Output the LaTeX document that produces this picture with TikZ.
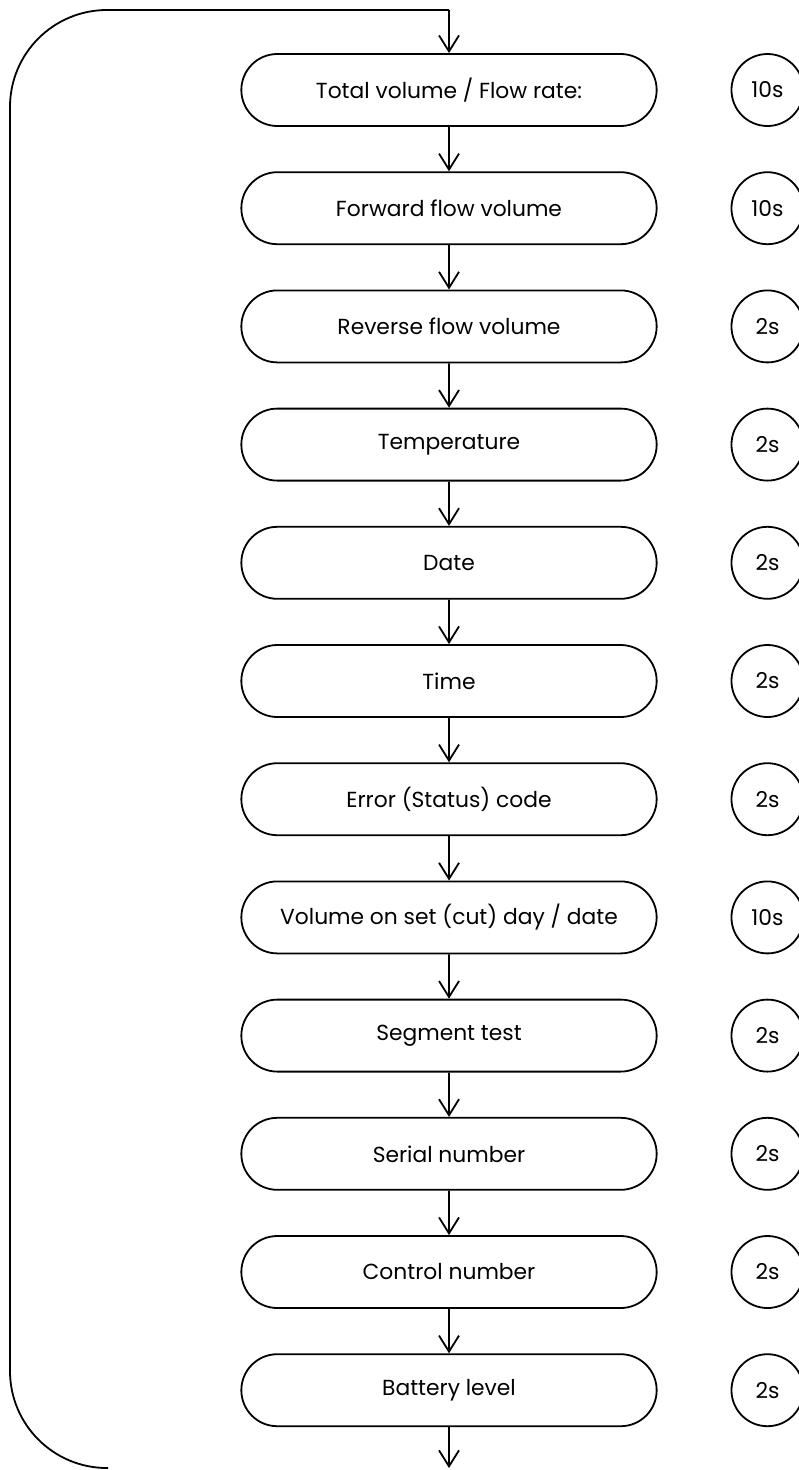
\documentclass[tikz,border=0pt]{standalone}
\usepackage{fontspec}
\setmainfont{Poppins}
\usetikzlibrary{positioning,shapes.misc,arrows.meta}

\begin{document}
\begin{tikzpicture}[x=1pt,y=-1pt,
	stage/.style={rounded rectangle,draw,line width=1.8pt,minimum width=422pt,minimum height=72pt,font=\fontsize{21.8}{24}\selectfont},
	timer/.style={circle,draw,line width=1.8pt,minimum size=72pt,inner sep=0pt,font=\fontsize{21.8}{24}\selectfont},
	flow/.style={-{Straight Barb[length=16pt,width=20pt]},line width=1.8pt},
	node distance=44.4pt]
\useasboundingbox (0,0) rectangle (799,1470);
\node[stage] (total) at (449,90) {Total volume / Flow rate:};
\node[stage,below=of total] (forward) {Forward flow volume};
\node[stage,below=of forward] (reverse) {Reverse flow volume};
\node[stage,below=of reverse] (temp) {Temperature};
\node[stage,below=of temp] (date) {Date};
\node[stage,below=of date] (time) {Time};
\node[stage,below=of time] (error) {Error (Status) code};
\node[stage,below=of error] (cutday) {Volume on set (cut) day / date};
\node[stage,below=of cutday] (segment) {Segment test};
\node[stage,below=of segment] (serial) {Serial number};
\node[stage,below=of serial] (control) {Control number};
\node[stage,below=of control] (battery) {Battery level};
% display times
\node[timer,right=73pt of total] (t1) {10s};
\node[timer,right=73pt of forward] (t2) {10s};
\node[timer,right=73pt of reverse] (t3) {2s};
\node[timer,right=73pt of temp] (t4) {2s};
\node[timer,right=73pt of date] (t5) {2s};
\node[timer,right=73pt of time] (t6) {2s};
\node[timer,right=73pt of error] (t7) {2s};
\node[timer,right=73pt of cutday] (t8) {10s};
\node[timer,right=73pt of segment] (t9) {2s};
\node[timer,right=73pt of serial] (t10) {2s};
\node[timer,right=73pt of control] (t11) {2s};
\node[timer,right=73pt of battery] (t12) {2s};
% flow
\draw[flow] (total) -- (forward);
\draw[flow] (forward) -- (reverse);
\draw[flow] (reverse) -- (temp);
\draw[flow] (temp) -- (date);
\draw[flow] (date) -- (time);
\draw[flow] (time) -- (error);
\draw[flow] (error) -- (cutday);
\draw[flow] (cutday) -- (segment);
\draw[flow] (segment) -- (serial);
\draw[flow] (serial) -- (control);
\draw[flow] (control) -- (battery);
\coordinate (exit) at (449,1468);
\coordinate (loopend) at (108,1468);
\coordinate (looptop) at (449,10);
\draw[flow] (battery) -- (exit);
\draw[line width=1.8pt,rounded corners=97pt] (loopend) -| (10,10) -- (looptop);
\draw[flow] (looptop) -- (total);
\end{tikzpicture}
\end{document}
